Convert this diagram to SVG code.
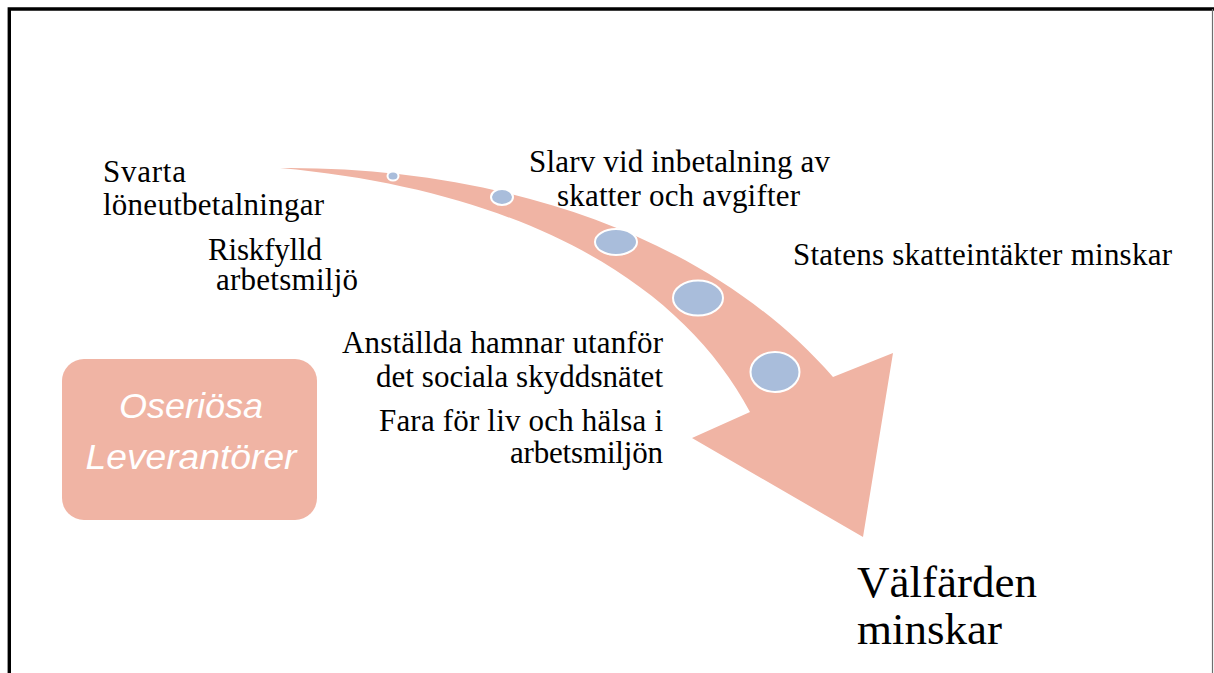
<svg xmlns="http://www.w3.org/2000/svg" width="1214" height="673" viewBox="0 0 1214 673">
  <style>
    .lbl { font-family: "Liberation Serif", "Times New Roman", serif; font-size: 31px; fill: #000; }
    .big { font-family: "Liberation Serif", "Times New Roman", serif; font-size: 45px; fill: #000; }
    .box-text { font-family: "Liberation Sans", Arial, sans-serif; font-size: 35px; font-style: italic; fill: #fff; }
    .salmon { fill: #F0B4A4; }
    .dot { fill: #A9BDDB; stroke: #fff; stroke-width: 2; }
  </style>

  <rect x="0" y="0" width="1214" height="673" fill="#fff"/>

  <!-- page frame -->
  <g id="frame">
    <path d="M9.3,673 V9 H1214" fill="none" stroke="#000" stroke-width="3.4"/>
    <line x1="1212.5" y1="9" x2="1212.5" y2="673" stroke="#6e6e6e" stroke-width="1.2"/>
  </g>

  <!-- curved flow arrow -->
  <g id="connectors">
    <path id="flow-arrow" class="salmon"
          d="M280,168 C480,166 700,225 833,377 L893,353 L863,537 L692,438 L750,412 C680,280 520,190 280,168 Z"/>
  </g>

  <!-- milestones along the arrow -->
  <g id="milestones">
    <ellipse class="dot" cx="393" cy="176" rx="5.5" ry="4.5" stroke-width="1.5"/>
    <ellipse class="dot" cx="502" cy="197" rx="11" ry="8"/>
    <ellipse class="dot" cx="616" cy="242" rx="21" ry="13"/>
    <ellipse class="dot" cx="698" cy="298" rx="25" ry="17.5"/>
    <ellipse class="dot" cx="775" cy="372" rx="24.5" ry="20"/>
  </g>

  <!-- source box -->
  <g id="node-oseriosa">
    <rect class="salmon" x="62" y="359" width="255" height="161" rx="22" ry="22"/>
    <text class="box-text" x="191" y="418" text-anchor="middle" textLength="144" lengthAdjust="spacingAndGlyphs">Oseriösa</text>
    <text class="box-text" x="191" y="469" text-anchor="middle" textLength="211" lengthAdjust="spacingAndGlyphs">Leverantörer</text>
  </g>

  <g id="node-svarta">
    <text class="lbl" x="103" y="182" textLength="83" lengthAdjust="spacing">Svarta</text>
    <text class="lbl" x="103" y="215" textLength="221" lengthAdjust="spacing">löneutbetalningar</text>
  </g>

  <g id="node-riskfylld">
    <text class="lbl" x="208" y="260" textLength="114" lengthAdjust="spacing">Riskfylld</text>
    <text class="lbl" x="216" y="290" textLength="142" lengthAdjust="spacing">arbetsmiljö</text>
  </g>

  <g id="node-slarv">
    <text class="lbl" x="529" y="172" textLength="301" lengthAdjust="spacing">Slarv vid inbetalning av</text>
    <text class="lbl" x="557" y="206" textLength="243" lengthAdjust="spacing">skatter och avgifter</text>
  </g>

  <g id="node-statens">
    <text class="lbl" x="793" y="265" textLength="379" lengthAdjust="spacing">Statens skatteintäkter minskar</text>
  </g>

  <g id="node-anstallda">
    <text class="lbl" x="342" y="353" textLength="321" lengthAdjust="spacing">Anställda hamnar utanför</text>
    <text class="lbl" x="376" y="387" textLength="287" lengthAdjust="spacing">det sociala skyddsnätet</text>
  </g>

  <g id="node-fara">
    <text class="lbl" x="379" y="431" textLength="284" lengthAdjust="spacing">Fara för liv och hälsa i</text>
    <text class="lbl" x="510" y="463" textLength="153" lengthAdjust="spacing">arbetsmiljön</text>
  </g>

  <g id="node-valfarden">
    <text class="big" x="857" y="597">Välfärden</text>
    <text class="big" x="857" y="644">minskar</text>
  </g>
</svg>
